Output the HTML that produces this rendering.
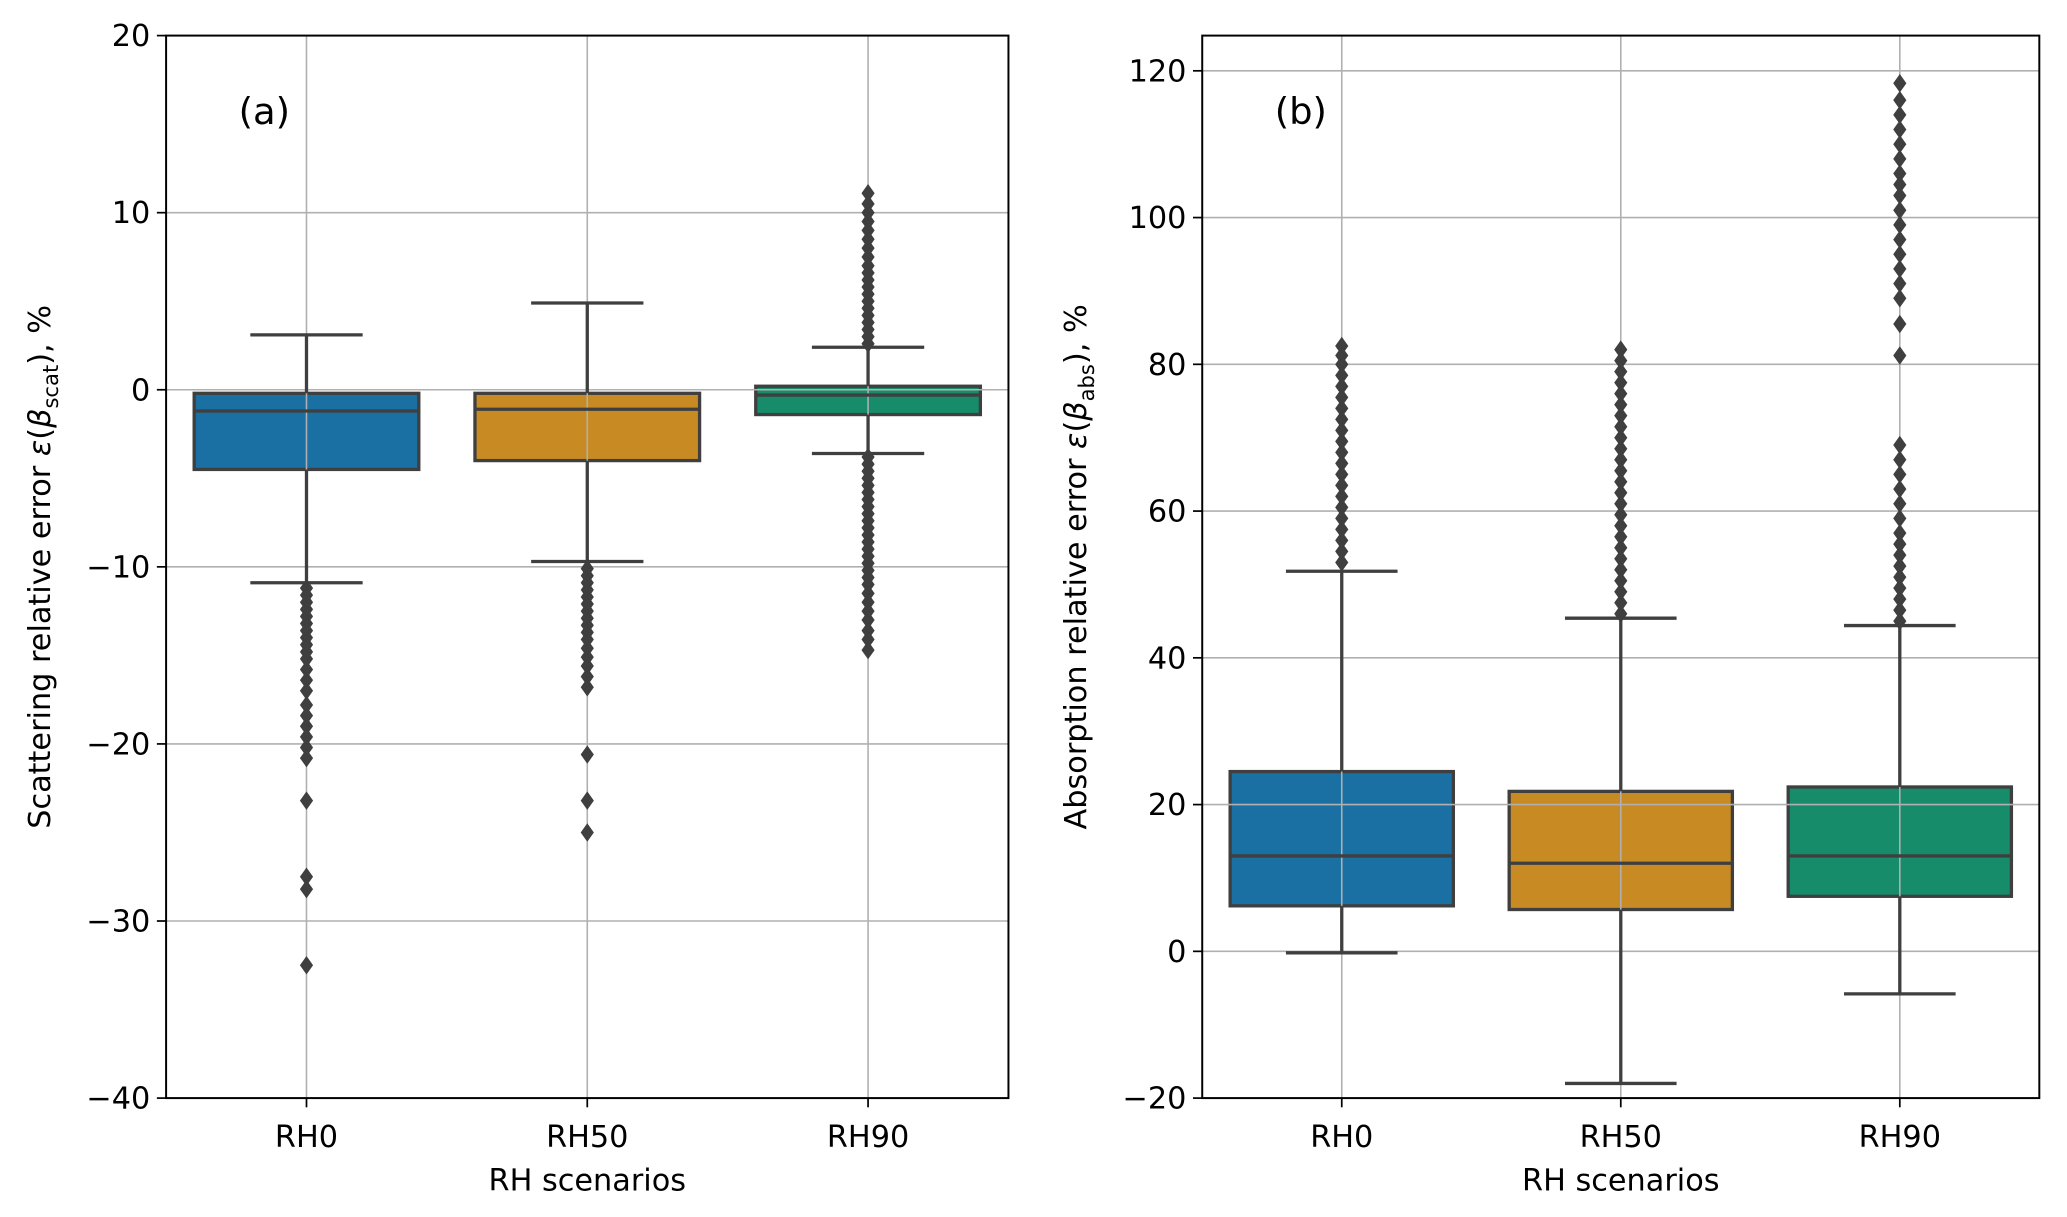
<!DOCTYPE html>
<html><head><meta charset="utf-8"><style>
html,body{margin:0;padding:0;background:#fff;}
svg{display:block;font-family:"DejaVu Sans","Liberation Sans",sans-serif;}
</style></head><body>
<svg id="chart" width="2067" height="1217" viewBox="0 0 1568 923.2" xmlns="http://www.w3.org/2000/svg"></svg>
<script>
const categories = ["RH0","RH50","RH90"];
const colors = ["#1a6fa3","#c88a22","#168c6a"];
// Panel (a): scattering
const aWhisLo = [-10.9,-9.7,-3.6];
const aQ1 = [-4.5,-4.0,-1.4];
const aMed = [-1.2,-1.1,-0.3];
const aQ3 = [-0.2,-0.2,0.2];
const aWhisHi = [3.1,4.9,2.4];
const aOutliers = [
 [-11.2,-11.6,-12,-12.4,-12.8,-13.2,-13.6,-14,-14.4,-14.8,-15.2,-15.8,-16.4,-17,-17.8,-18.4,-19,-19.6,-20.2,-20.8,-23.2,-27.5,-28.2,-32.5],
 [-10.1,-10.5,-10.9,-11.3,-11.7,-12.1,-12.5,-12.9,-13.3,-13.7,-14.1,-14.6,-15.1,-15.6,-16.2,-16.8,-20.6,-23.2,-25],
 [2.6,3,3.4,3.8,4.2,4.6,5,5.4,5.8,6.2,6.6,7,7.5,8,8.5,9,9.5,10,10.5,11.1,-3.8,-4.2,-4.6,-5,-5.4,-5.8,-6.2,-6.6,-7,-7.4,-7.8,-8.2,-8.6,-9,-9.4,-9.8,-10.2,-10.6,-11,-11.5,-12,-12.5,-13,-13.6,-14.1,-14.7]
];
// Panel (b): absorption
const bWhisLo = [-0.2,-18,-5.8];
const bQ1 = [6.2,5.7,7.5];
const bMed = [13,12,13];
const bQ3 = [24.5,21.8,22.4];
const bWhisHi = [51.8,45.4,44.4];
const bOutliers = [
 [53,54.5,56,57.5,59,60.5,62,63.5,65,66.5,68,69.5,71,72.5,74,75.5,77,78.5,80,81.2,82.5],
 [46,47.5,49,50.5,52,53.5,55,56.5,58,59.5,61,62.5,64,65.5,67,68.5,70,71.5,73,74.5,76,77.5,79,80.5,82],
 [45,46.5,48,49.5,51,52.5,54,55.5,57,59,61,63,65,67,69,81.2,85.5,89,91,93,95,97,99,101,103,104.5,106,108,110,112,114,116,118.3]
];
const aTicks = [20,10,0,-10,-20,-30,-40];
const aTickLabels = ["20","10","0","\u221210","\u221220","\u221230","\u221240"];
const bTicks = [120,100,80,60,40,20,0,-20];
const bTickLabels = ["120","100","80","60","40","20","0","\u221220"];

const NS="http://www.w3.org/2000/svg";
const svg=document.getElementById('chart');
function el(tag,attrs,parent){const e=document.createElementNS(NS,tag);for(const k in attrs)e.setAttribute(k,attrs[k]);(parent||svg).appendChild(e);return e;}

function panel(cfg){
  const {L,R,T,B,ymin,ymax,ticks,tickLabels,lo,q1,med,q3,hi,outs,letter,ylabel,sub,name}=cfg;
  const g=el('g',{});
  
  
  const y=v=>B-(v-ymin)/(ymax-ymin)*(B-T);
  const step=(R-L)/categories.length;
  const x=i=>L+step*(i+0.5);
  const bw=step*0.8;
  categories.forEach((c,i)=>{
    const bx=el('rect',{x:x(i)-bw/2,y:y(q3[i]),width:bw,height:y(q1[i])-y(q3[i]),fill:colors[i],stroke:'#3f3f3f','stroke-width':2.5},g);
    
    
  });
  ticks.forEach(t=>{const l=el('line',{x1:L,x2:R,y1:y(t),y2:y(t),stroke:'#b0b0b0','stroke-width':1.2},g);
    });
  categories.forEach((c,i)=>{const l=el('line',{x1:x(i),x2:x(i),y1:T,y2:B,stroke:'#b0b0b0','stroke-width':1.2},g);
    });
  categories.forEach((c,i)=>{
    const cx=x(i);
    const s={stroke:'#3f3f3f','stroke-width':2.5};
    el('line',Object.assign({x1:cx,x2:cx,y1:y(q1[i]),y2:y(lo[i])},s),g);
    el('line',Object.assign({x1:cx,x2:cx,y1:y(q3[i]),y2:y(hi[i])},s),g);
    el('line',Object.assign({x1:cx-bw/4,x2:cx+bw/4,y1:y(lo[i]),y2:y(lo[i])},s),g);
    el('line',Object.assign({x1:cx-bw/4,x2:cx+bw/4,y1:y(hi[i]),y2:y(hi[i])},s),g);
    const m=el('line',Object.assign({x1:cx-bw/2,x2:cx+bw/2,y1:y(med[i]),y2:y(med[i])},s),g);
    
    outs[i].forEach(v=>{const yy=y(v);
      const d=el('polygon',{points:`${cx},${yy-7} ${cx+5},${yy} ${cx},${yy+7} ${cx-5},${yy}`,fill:'#3f3f3f'},g);
      });
    el('line',{x1:cx,x2:cx,y1:B,y2:B+7,stroke:'#000','stroke-width':1.3},g);
    const lb=el('text',{x:cx,y:B+37,'text-anchor':'middle','font-size':23},g);lb.textContent=c;
    
  });
  ticks.forEach((t,k)=>{el('line',{x1:L-7,x2:L,y1:y(t),y2:y(t),stroke:'#000','stroke-width':1.3},g);
    const lb=el('text',{x:L-12,y:y(t)+8,'text-anchor':'end','font-size':23},g);lb.textContent=tickLabels[k];
    });
  const fr=el('rect',{x:L,y:T,width:R-L,height:B-T,fill:'none',stroke:'#000','stroke-width':1.5},g);
  
  const pl=el('text',{x:L+55,y:T+67,'font-size':28},g);pl.textContent=letter;
  
  const xt=el('text',{x:(L+R)/2,y:B+70,'text-anchor':'middle','font-size':23},g);xt.textContent='RH scenarios';
  
  const yt=el('text',{x:0,y:0,'text-anchor':'middle','font-size':23,transform:`translate(${cfg.ylx},${(T+B)/2}) rotate(-90)`},g);
  yt.innerHTML=`${ylabel} <tspan font-style="italic">\u03b5</tspan>(<tspan font-style="italic">\u03b2</tspan><tspan font-size="16" dy="6">${sub}</tspan><tspan dy="-6">), %</tspan>`;
  
}
panel({name:'panel-a',L:126,R:765,T:27,B:833,ymin:-40,ymax:20,ticks:aTicks,tickLabels:aTickLabels,lo:aWhisLo,q1:aQ1,med:aMed,q3:aQ3,hi:aWhisHi,outs:aOutliers,letter:'(a)',ylabel:'Scattering relative error',sub:'scat',ylx:38});
panel({name:'panel-b',L:912,R:1547,T:27,B:833,ymin:-20,ymax:124.8,ticks:bTicks,tickLabels:bTickLabels,lo:bWhisLo,q1:bQ1,med:bMed,q3:bQ3,hi:bWhisHi,outs:bOutliers,letter:'(b)',ylabel:'Absorption relative error',sub:'abs',ylx:824});
</script>
</body></html>
